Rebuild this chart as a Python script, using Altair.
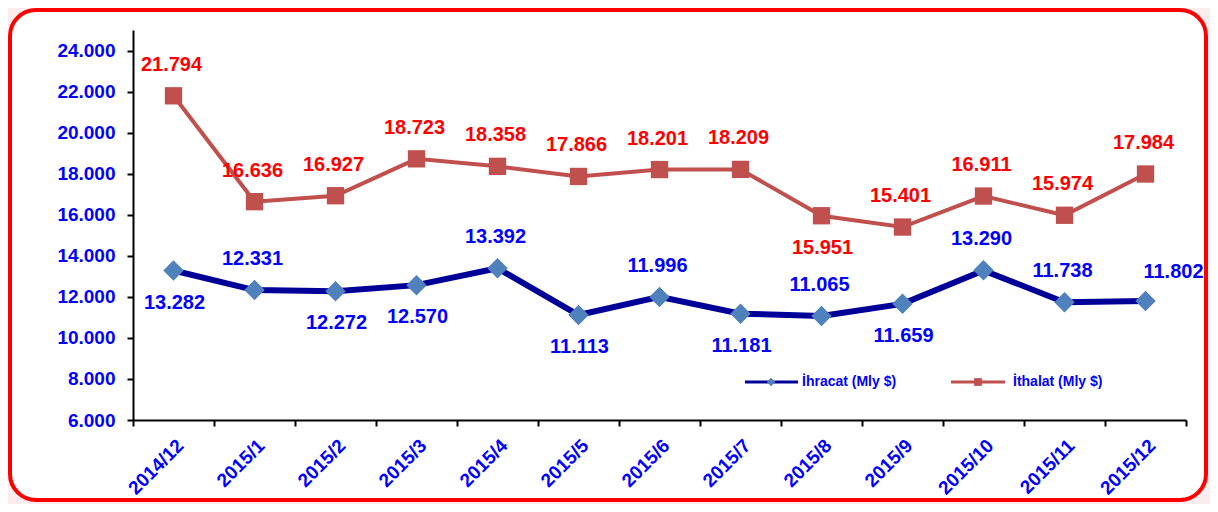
import altair as alt
import pandas as pd

months = ["2014/12", "2015/1", "2015/2", "2015/3", "2015/4", "2015/5", "2015/6",
          "2015/7", "2015/8", "2015/9", "2015/10", "2015/11", "2015/12"]
ihracat = [13282, 12331, 12272, 12570, 13392, 11113, 11996, 11181, 11065, 11659, 13290, 11738, 11802]
ithalat = [21794, 16636, 16927, 18723, 18358, 17866, 18201, 18209, 15951, 15401, 16911, 15974, 17984]
ihracat_label_side = ["below", "above", "below", "below", "above", "below", "above",
                      "below", "above", "below", "above", "above", "aboveright"]
ithalat_label_side = ["above"] * 8 + ["below"] + ["above"] * 4
series_names = ["İhracat (Mly $)", "İthalat (Mly $)"]
y_ticks = [6000, 8000, 10000, 12000, 14000, 16000, 18000, 20000, 22000, 24000]

FONT = "Liberation Sans"
BLUE_TXT = "#0000FF"
RED_TXT = "#FF0000"
NAVY = "#000099"
STEEL = "#4F81BD"
BRICK = "#C0504D"

df_ihr = pd.DataFrame({"month": months, "value": ihracat, "side": ihracat_label_side})
df_ith = pd.DataFrame({"month": months, "value": ithalat, "side": ithalat_label_side})

W, H = 1053, 390

x_enc = alt.X("month:N", sort=months, title=None,
              scale=alt.Scale(paddingInner=0, paddingOuter=0),
              axis=alt.Axis(labelAngle=-45, labelFont=FONT, labelFontSize=19,
                            labelFontWeight="bold", labelColor=BLUE_TXT,
                            domainColor="black", domainWidth=2, tickColor="black",
                            tickWidth=2, tickSize=6, tickBand="extent", labelPadding=10,
                            grid=False, zindex=2))
y_enc = alt.Y("value:Q", title=None,
              scale=alt.Scale(domain=[6000, 25000], nice=False, zero=False),
              axis=alt.Axis(values=y_ticks, labelFont=FONT, labelFontSize=19,
                            labelFontWeight="bold", labelColor=BLUE_TXT,
                            labelExpr="replace(format(datum.value, ',.0f'), ',', '.')",
                            domainColor="black", domainWidth=2, tickColor="black",
                            tickWidth=2, tickSize=6, labelPadding=12, grid=False, zindex=2))

frame = alt.Chart(pd.DataFrame({"k": [0]})).mark_rect(
    fill="white", stroke="#FF0000", strokeWidth=4, cornerRadius=26
).encode(x=alt.value(-123), x2=alt.value(1073), y=alt.value(-20), y2=alt.value(470))

def series_layers(df, line_color, line_w, pt_color, shape, size, txt_color):
    base = alt.Chart(df).encode(x=x_enc, y=y_enc)
    line = base.mark_line(color=line_color, strokeWidth=line_w)
    pts = base.mark_point(shape=shape, size=size, filled=True, color=pt_color, opacity=1)
    txt = base.transform_calculate(
        lab="replace(format(datum.value, ',.0f'), ',', '.')"
    )
    def t(side, dx, dy):
        return txt.transform_filter(alt.datum.side == side).mark_text(
            font=FONT, fontSize=20, fontWeight="bold", color=txt_color, dx=dx, dy=dy
        ).encode(text="lab:N")
    return [line, pts, t("above", -2, -31), t("below", 1, 32), t("aboveright", 28, -29)]

ihr_layers = series_layers(df_ihr, NAVY, 6, STEEL, "diamond", 420, BLUE_TXT)
ith_layers = series_layers(df_ith, BRICK, 4, BRICK, "square", 300, RED_TXT)

# legend (decorative)
leg = alt.Chart(pd.DataFrame({"k": [0]}))
leg_y = 352
legend_layers = [
    leg.mark_rule(color=NAVY, strokeWidth=3).encode(x=alt.value(612), x2=alt.value(665), y=alt.value(leg_y)),
    leg.mark_point(shape="diamond", size=70, filled=True, color=STEEL, opacity=1).encode(x=alt.value(638), y=alt.value(leg_y)),
    leg.mark_text(align="left", font=FONT, fontSize=14, fontWeight="bold", color=BLUE_TXT).encode(
        x=alt.value(669), y=alt.value(leg_y), text=alt.value(series_names[0])),
    leg.mark_rule(color=BRICK, strokeWidth=3).encode(x=alt.value(818), x2=alt.value(872), y=alt.value(leg_y)),
    leg.mark_point(shape="square", size=60, filled=True, color=BRICK, opacity=1).encode(x=alt.value(845), y=alt.value(leg_y)),
    leg.mark_text(align="left", font=FONT, fontSize=14, fontWeight="bold", color=BLUE_TXT).encode(
        x=alt.value(880), y=alt.value(leg_y), text=alt.value(series_names[1])),
]

chart = alt.layer(
    frame, *ith_layers, *ihr_layers, *legend_layers
).properties(
    width=W, height=H, autosize="none",
    padding={"left": 125, "top": 22, "right": 24, "bottom": 84},
    background="#FBEDED",
).configure_view(stroke=None)

chart.save("out.html", embed_options={"renderer": "svg", "actions": False})
